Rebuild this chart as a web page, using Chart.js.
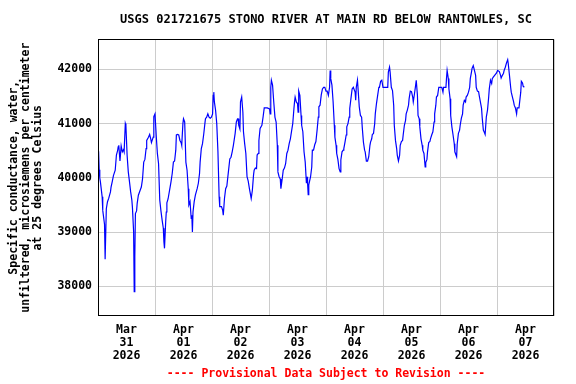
<!DOCTYPE html>
<html>
<head>
<meta charset="utf-8">
<style>
  html, body { margin: 0; padding: 0; background: #fff; }
  #wrap { width: 576px; height: 384px; }
</style>
</head>
<body>
<div id="wrap"><canvas id="chart" width="576" height="384"></canvas></div>
<script src="https://cdn.jsdelivr.net/npm/chart.js@4/dist/chart.umd.min.js"></script>
<script>
// hours after 2026-03-31 00:00
const hours = [
  0.25, 0.5, 0.75, 1, 1.75, 2, 2.75, 3, 3.5, 4, 4.5, 5.25, 5.5, 6, 6.5, 7.25, 7.75, 8.25, 8.5, 8.75,
  9.25, 9.75, 10.25, 10.75, 11, 11.5, 11.75, 12.25, 12.75, 13.25, 13.75, 14.25, 14.5, 15, 15.25, 15.5,
  15.75, 16.25, 16.5, 17, 17.75, 18.25, 18.75, 19.25, 19.75, 20.25, 20.5, 21.25, 21.75, 22.25, 22.5,
  23.25, 23.5, 24, 24.5, 25, 25.5, 26, 26.5, 27, 27.5, 27.75, 28, 28.5, 28.75, 29, 29.5, 30.25, 30.75,
  31.25, 31.75, 32.25, 32.75, 33, 33.5, 34, 34.5, 35, 35.25, 35.75, 36, 36.5, 37, 37.5, 38, 38.25,
  38.75, 39.25, 39.5, 39.75, 40, 40.5, 41, 41.75, 42.25, 42.75, 43, 43.5, 44, 44.5, 45, 45.25, 45.75,
  46.25, 46.75, 47.25, 47.75, 48.25, 48.5, 48.75, 49, 49.5, 50, 50.5, 51, 51.25, 52, 52.5, 52.75,
  53.25, 53.75, 54.25, 54.75, 55.5, 56, 56.5, 57, 57.75, 58.25, 58.75, 59, 59.25, 59.75, 60, 60.5,
  61, 61.25, 61.75, 62.25, 62.75, 63.25, 63.75, 64.25, 64.5, 65, 65.5, 65.75, 66.25, 66.75, 67, 67.5,
  67.75, 68.25, 69, 69.5, 70, 71.25, 72.25, 72.5, 72.75, 73, 73.5, 74, 74.5, 75, 75.5, 75.75, 76.25,
  76.75, 77, 77.5, 78, 78.5, 79, 79.5, 80, 80.5, 81, 81.5, 82, 82.5, 82.75, 83, 83.5, 84, 84.25, 84.5,
  85, 85.5, 85.75, 86.25, 86.75, 87.25, 87.75, 88, 88.25, 88.5, 88.75, 89.5, 90, 90.25, 90.75, 91.25,
  91.75, 92.25, 92.75, 93, 93.5, 94, 94.5, 95, 95.5, 96, 96.5, 97, 97.5, 97.75, 98, 98.5, 99, 99.5,
  99.75, 100.25, 100.5, 101, 101.5, 102, 102.25, 102.75, 103.25, 103.5, 104, 104.5, 104.75, 105.25,
  105.75, 106, 106.5, 107, 107.5, 107.75, 108.25, 108.5, 108.75, 109.25, 109.5, 110, 110.5, 111,
  111.25, 111.75, 112.25, 112.5, 113, 113.5, 114, 114.5, 114.75, 115.25, 115.5, 116, 116.5, 116.75,
  117.25, 117.75, 118.25, 118.5, 119, 119.5, 120, 121.25, 122, 122.25, 122.75, 123, 123.5, 124, 124.5,
  124.75, 125.25, 125.75, 126, 126.5, 127, 127.25, 127.75, 128.25, 128.5, 129, 129.5, 129.75, 130.25,
  130.75, 131, 131.5, 132, 132.5, 132.75, 133.25, 133.75, 134, 134.5, 134.75, 135.25, 135.5, 136,
  136.5, 136.75, 137.25, 137.75, 138, 138.5, 138.75, 139.25, 139.75, 140, 140.5, 141, 141.5, 141.75,
  142.25, 142.5, 143, 143.5, 144.75, 145.25, 145.5, 146.5, 146.75, 147, 147.5, 147.75, 148.25, 148.5,
  149, 149.5, 150, 150.25, 151, 151.25, 151.75, 152.25, 152.5, 153, 153.5, 153.75, 154.25, 154.75,
  155, 155.5, 156, 156.5, 156.75, 157.25, 157.5, 158, 158.5, 159, 159.25, 159.75, 160.25, 160.5, 161,
  161.5, 161.75, 162.25, 162.75, 163, 163.5, 164, 164.5, 164.75, 165.25, 165.75, 166, 166.5, 167,
  167.75, 168.25, 169, 169.5, 169.75, 170.25, 170.75, 171, 171.5, 172, 172.5, 172.75, 173.25, 173.75,
  174, 174.5, 175, 175.25, 175.75, 176.25, 176.5, 177.25, 178, 178.25, 178.75, 179, 179.5
];

// specific conductance, uS/cm at 25 C
const conductance = [
  40490, 40150, 40000, 39930, 39650, 39400, 39140, 38500, 39430, 39560, 39620, 39740, 39830, 39930, 40040, 40140, 40420, 40500, 40570, 40600,
  40310, 40590, 40480, 40520, 40480, 41000, 40960, 40420, 40110, 39930, 39740, 39590, 39450, 39000, 37900, 38550,
  39340, 39390, 39530, 39680, 39770, 39830, 39980, 40290, 40340, 40540, 40690, 40750, 40800, 40710, 40650,
  40750, 41130, 41180, 40790, 40450, 40260, 39590, 39390, 39220, 39070, 38820, 38700, 39190, 39370, 39540, 39610, 39800, 39930,
  40080, 40290, 40310, 40510, 40790, 40800, 40790, 40690, 40650, 40600, 41000, 41090, 41030, 40290, 40140, 39800, 39500,
  39560, 39250, 39310, 39000, 39370, 39560, 39680, 39800, 39900, 40080, 40290, 40540, 40630, 40800, 41000, 41090, 41120,
  41180, 41120, 41100, 41120, 41180, 41520, 41580, 41400, 41250, 41000, 40480, 39650, 39470, 39470, 39400, 39310,
  39620, 39800, 39850, 40050, 40350, 40380, 40480, 40600, 40820, 41030, 41090, 41090, 40970, 40900, 41400, 41490,
  41210, 40850, 40630, 40450, 40020, 39940, 39800, 39680, 39620, 39770, 40060, 40140, 40180, 40170, 40420, 40450,
  40690, 40910, 40970, 41120, 41290, 41290, 41270, 41180, 41670, 41800, 41710, 41400, 41120, 41030, 40600, 40110, 40020,
  39980, 39800, 39960, 40140, 40180, 40260, 40450, 40510, 40630, 40720, 40860, 41000, 41280, 41400, 41490, 41400, 41370, 41210, 41600,
  41520, 41150, 40970, 40850, 40480, 40290, 39900, 40020, 39900, 39690, 39870, 40020, 40200, 40510, 40510, 40610,
  40670, 40880, 41120, 41310, 41340, 41530, 41640, 41670, 41670, 41600, 41600, 41520, 41670, 41980, 41830, 41710, 41400, 40970,
  40750, 40600, 40450, 40340, 40170, 40110, 40330, 40480, 40510, 40540, 40660, 40790, 40940, 41000,
  41120, 41280, 41460, 41640, 41670, 41670, 41580, 41430, 41670, 41800, 41640, 41310, 41150, 41120,
  40940, 40660, 40510, 40480, 40310, 40310, 40390, 40600, 40660, 40720, 40800, 40820, 41000, 41180,
  41370, 41520, 41670, 41670, 41780, 41800, 41670, 41670, 41670, 41950, 42040, 41950, 41670, 41610, 41340,
  40970, 40690, 40540, 40420, 40310, 40420, 40600, 40670, 40690, 40790, 40970, 41060, 41180, 41250,
  41340, 41460, 41600, 41590, 41490, 41400, 41550, 41710, 41800, 41520, 41150, 41090, 40940, 40720,
  40600, 40510, 40450, 40200, 40280, 40340, 40480, 40650, 40670, 40720, 40790, 40850, 41030, 41180,
  41340, 41490, 41520, 41670, 41670, 41580, 41670, 41670, 41840, 41980, 41830, 41640, 41460, 41150,
  40940, 40790, 40630, 40480, 40390, 40630, 40820, 40880, 40970, 41100, 41180, 41340, 41430, 41400,
  41490, 41520, 41580, 41670, 41830, 41950, 42020, 42070, 41980, 41890, 41670, 41600, 41590, 41520, 41400,
  41280, 41120, 40880, 40830, 40800, 41120, 41250, 41490, 41640, 41800, 41740, 41830, 41860, 41890,
  41930, 41980, 41960, 41890, 41840, 41890, 41930, 41980, 42040, 42120, 42180, 42100, 41890, 41670,
  41580, 41490, 41400, 41340, 41290, 41180, 41290, 41290, 41580, 41780, 41750, 41690, 41670
];

const dayMonths = ["Mar", "Apr", "Apr", "Apr", "Apr", "Apr", "Apr", "Apr"];
const dayNums = ["31", "01", "02", "03", "04", "05", "06", "07"];
const dayYears = ["2026", "2026", "2026", "2026", "2026", "2026", "2026", "2026"];
const yTicks = [38000, 39000, 40000, 41000, 42000];

const mono = "'DejaVu Sans Mono', 'Liberation Mono', monospace";
const gridColor = "#cccccc";

const points = hours.map((h, i) => ({ x: h, y: conductance[i] }));

const frame = {
  id: "frame",
  afterDraw(chart) {
    const { ctx, chartArea: a } = chart;
    ctx.save();
    ctx.strokeStyle = "#000";
    ctx.lineWidth = 1;
    ctx.strokeRect(Math.round(a.left) + 0.5, Math.round(a.top) + 0.5,
      Math.round(a.right - a.left) - 1, Math.round(a.bottom - a.top) - 1);
    ctx.restore();
  }
};

new Chart(document.getElementById("chart"), {
  type: "line",
  data: {
    datasets: [{
      data: points,
      borderColor: "#0000ff",
      borderWidth: 1.2,
      pointRadius: 0,
      tension: 0,
      fill: false
    }]
  },
  options: {
    responsive: false,
    animation: false,
    devicePixelRatio: 1,
    layout: { padding: { left: 0, right: 22, top: 0, bottom: 0 } },
    plugins: {
      legend: { display: false },
      tooltip: { enabled: false },
      title: {
        display: true,
        fullSize: false,
        text: "USGS 021721675 STONO RIVER AT MAIN RD BELOW RANTOWLES, SC",
        color: "#000",
        font: { family: mono, size: 12, weight: "bold", lineHeight: 1.2 },
        padding: { top: 13, bottom: 12 }
      }
    },
    scales: {
      x: {
        type: "linear",
        min: 0,
        max: 192,
        afterFit: s => { s.height = 68; },
        afterBuildTicks: s => {
          const t = [];
          for (let v = 0; v <= 192; v += 12) t.push({ value: v });
          s.ticks = t;
        },
        grid: {
          drawTicks: false,
          color: c => (c.tick && c.tick.value % 24 === 0) ? gridColor : "rgba(0,0,0,0)"
        },
        border: { display: false },
        ticks: {
          autoSkip: false,
          maxRotation: 0,
          padding: 8,
          color: "#000",
          font: { family: mono, size: 11.5, weight: "bold", lineHeight: 1.1 },
          callback: v => {
            if (v % 24 !== 12) return "";
            const i = (v - 12) / 24;
            return [dayMonths[i], dayNums[i], dayYears[i]];
          }
        },
        title: {
          display: true,
          text: "---- Provisional Data Subject to Revision ----",
          color: "#ff0000",
          font: { family: mono, size: 11.5, weight: "bold", lineHeight: 1.1 },
          padding: { top: 0, bottom: 4 }
        }
      },
      y: {
        min: 37452,
        max: 42553,
        afterFit: s => { s.width = 98; },
        afterBuildTicks: s => { s.ticks = yTicks.map(v => ({ value: v })); },
        grid: { drawTicks: false, color: gridColor },
        border: { display: false },
        ticks: {
          padding: 6,
          color: "#000",
          font: { family: mono, size: 11.5, weight: "bold" },
          callback: v => String(v)
        },
        title: {
          display: true,
          text: ["Specific conductance, water,", "unfiltered, microsiemens per centimeter", "at 25 degrees Celsius"],
          color: "#000",
          font: { family: mono, size: 11.5, weight: "bold", lineHeight: 1.05 },
          padding: { top: 8, bottom: 0 }
        }
      }
    }
  },
  plugins: [frame]
});
</script>
</body>
</html>
